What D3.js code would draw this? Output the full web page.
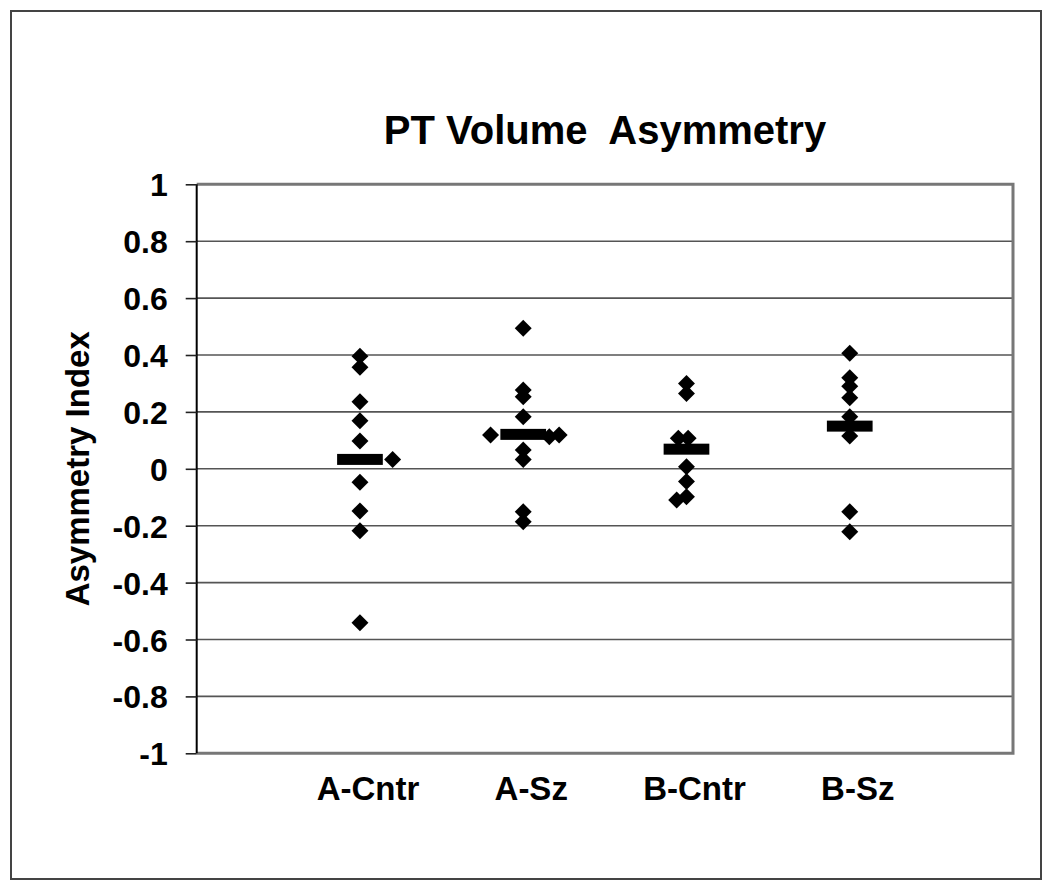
<!DOCTYPE html>
<html>
<head>
<meta charset="utf-8">
<script src="https://cdn.jsdelivr.net/npm/d3@7"></script>
<style>
  html, body { margin: 0; padding: 0; background: #fff; }
  svg { display: block; }
  text { font-family: "Liberation Sans", Arial, sans-serif; font-weight: bold; fill: #000; white-space: pre; }
</style>
</head>
<body>
<svg id="chart" width="1050" height="887"></svg>
<script>
// ---- data ----
const title = "PT Volume  Asymmetry";
const yLabel = "Asymmetry Index";
const categories = ["A-Cntr", "A-Sz", "B-Cntr", "B-Sz"];
const categoryPos = [1, 2, 3, 4];
const aCntrValues  = [0.396, 0.357, 0.236, 0.169, 0.098, 0.033, -0.047, -0.148, -0.218, -0.541];
const aCntrJitter  = [0, 0, 0, 0, 0, 0.2, 0, 0, 0, 0];
const aSzValues    = [0.494, 0.277, 0.253, 0.183, 0.119, 0.113, 0.119, 0.066, 0.033, -0.151, -0.186];
const aSzJitter    = [0, 0, 0, 0, -0.2, 0.16, 0.22, 0, 0, 0, 0];
const bCntrValues  = [0.30, 0.265, 0.107, 0.107, 0.007, -0.045, -0.098, -0.11];
const bCntrJitter  = [0, 0, -0.05, 0.01, 0, 0, 0, -0.06];
const bSzValues    = [0.406, 0.32, 0.29, 0.25, 0.183, 0.115, -0.151, -0.221];
const bSzJitter    = [0, 0, 0, 0, 0, 0, 0, 0];
const meanValues   = [0.033, 0.121, 0.069, 0.15];
const yTickValues  = [1, 0.8, 0.6, 0.4, 0.2, 0, -0.2, -0.4, -0.6, -0.8, -1];

(function () {
const groups = [
  { values: aCntrValues, jitter: aCntrJitter },
  { values: aSzValues,   jitter: aSzJitter },
  { values: bCntrValues, jitter: bCntrJitter },
  { values: bSzValues,   jitter: bSzJitter }
];
const points = [];
groups.forEach((g, i) => g.values.forEach((v, j) => points.push({ x: categoryPos[i] + g.jitter[j], y: v })));

// ---- layout ----
const svg = d3.select("#chart");
const pL = 196.7, pR = 1013, pT = 184.3, pB = 753.3;
const x = d3.scaleLinear().domain([0, 5]).range([pL, pR]);
const y = d3.scaleLinear().domain([-1, 1]).range([pB, pT]);

// outer border
svg.append("rect").attr("x", 11).attr("y", 11).attr("width", 1030).attr("height", 868)
  .attr("fill", "none").attr("stroke", "#444").attr("stroke-width", 2);

// gridlines
svg.append("g").selectAll("line").data(yTickValues.filter(v => v !== 1 && v !== -1)).join("line")
  .attr("x1", pL).attr("x2", pR).attr("y1", d => y(d)).attr("y2", d => y(d))
  .attr("stroke", "#555").attr("stroke-width", 1.6);

// plot frame (top, right, bottom)
svg.append("path")
  .attr("d", `M${pL},${pT}H${pR}V${pB}H${pL}`)
  .attr("fill", "none").attr("stroke", "#777").attr("stroke-width", 3);

// y axis
const yAxis = d3.axisLeft(y).tickValues(yTickValues).tickSize(11).tickPadding(18)
  .tickFormat(d => String(Math.round(d * 10) / 10));
const gy = svg.append("g").attr("transform", `translate(${pL},0)`).call(yAxis);
gy.select(".domain").attr("stroke", "#000").attr("stroke-width", 2).attr("d", `M0,${pT}V${pB}`);
gy.selectAll(".tick line").attr("stroke", "#222").attr("stroke-width", 1.6);
gy.selectAll(".tick text").style("font-size", "32px").style("font-family", "Liberation Sans, Arial, sans-serif")
  .style("font-weight", "bold").attr("fill", "#000").attr("dy", "0.36em");

// x category labels
svg.append("g").selectAll("text").data(categories).join("text")
  .attr("x", (d, i) => x(categoryPos[i])).attr("dx", 8).attr("y", 800)
  .attr("text-anchor", "middle").style("font-size", "33px").text(d => d);

// title
svg.append("text").attr("x", 605).attr("y", 144).attr("text-anchor", "middle")
  .style("font-size", "40px").text(title);

// y label
svg.append("text").attr("transform", `translate(89,${(pT + pB) / 2}) rotate(-90)`)
  .attr("text-anchor", "middle").style("font-size", "33px").text(yLabel);

// mean bars
svg.append("g").selectAll("rect").data(meanValues).join("rect")
  .attr("x", (d, i) => x(categoryPos[i] - 0.14)).attr("width", (d, i) => x(categoryPos[i] + 0.14) - x(categoryPos[i] - 0.14))
  .attr("y", d => y(d) - 5.5).attr("height", 11).attr("fill", "#000");

// diamonds
const diamond = d3.symbol(d3.symbolSquare, 144);
svg.append("g").selectAll("path").data(points).join("path")
  .attr("d", diamond)
  .attr("transform", d => `translate(${x(d.x)},${y(d.y)}) rotate(45)`)
  .attr("fill", "#000");
})();
</script>
</body>
</html>
